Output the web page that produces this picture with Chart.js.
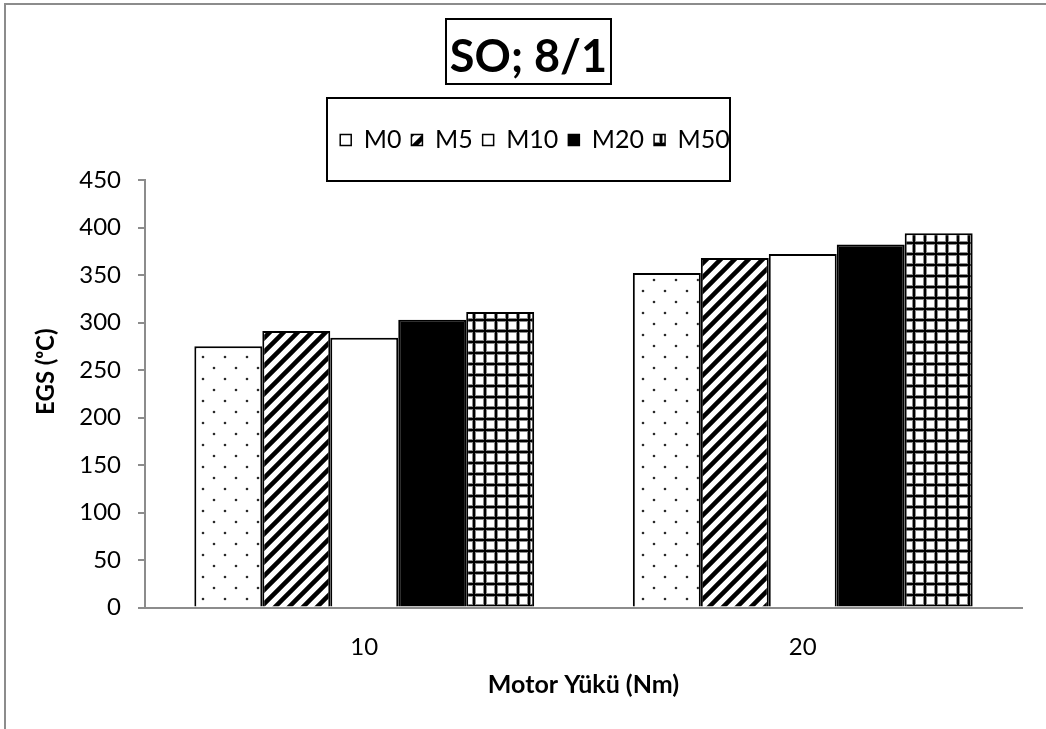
<!DOCTYPE html>
<html>
<head>
<meta charset="utf-8">
<script src="https://cdn.jsdelivr.net/npm/chart.js@4.4.1/dist/chart.umd.min.js"></script>
<style>
  html, body { margin: 0; padding: 0; background: #fff; }
  #wrap { position: relative; width: 1046px; height: 729px; }
</style>
</head>
<body>
<div id="wrap"><canvas id="c" width="1046" height="729"></canvas></div>
<script>
// ---- data ----
const categories = ['10', '20'];
const seriesNames = ['M0', 'M5', 'M10', 'M20', 'M50'];
const m0Values  = [275, 352];
const m5Values  = [291, 368];
const m10Values = [284, 372];
const m20Values = [303, 382];
const m50Values = [311, 394];
const yTickValues = [0, 50, 100, 150, 200, 250, 300, 350, 400, 450];
const chartTitle = 'SO; 8/1';
const xAxisTitle = 'Motor Yükü (Nm)';
const yAxisTitle = 'EGS (ᵒC)';

// ---- fill patterns ----
function makeTile(w, h, paint) {
  const c = document.createElement('canvas');
  c.width = w; c.height = h;
  const g = c.getContext('2d');
  paint(g, w, h);
  return g.createPattern(c, 'repeat');
}
const dotFill = makeTile(22, 22, (g) => {
  g.fillStyle = '#fff'; g.fillRect(0, 0, 22, 22);
  g.fillStyle = '#2a2a2a';
  [[5, 5], [16, 16]].forEach(([x, y]) => { g.beginPath(); g.arc(x, y, 1.3, 0, Math.PI * 2); g.fill(); });
});
const stripeFill = makeTile(14, 14, (g) => {
  g.fillStyle = '#fff'; g.fillRect(0, 0, 14, 14);
  g.strokeStyle = '#000'; g.lineWidth = 4.5;
  g.beginPath();
  g.moveTo(-7, 7); g.lineTo(7, -7);
  g.moveTo(0, 14); g.lineTo(14, 0);
  g.moveTo(7, 21); g.lineTo(21, 7);
  g.stroke();
});
const gridFill = makeTile(11, 11, (g) => {
  g.fillStyle = '#000'; g.fillRect(0, 0, 11, 11);
  g.fillStyle = '#8a8a8a'; g.fillRect(2, 2, 9, 9);
  g.fillStyle = '#fff'; g.fillRect(3, 3, 7, 7);
});

const seriesValues = [m0Values, m5Values, m10Values, m20Values, m50Values];
const seriesFills = [dotFill, stripeFill, '#ffffff', '#000000', gridFill];

const LEGEND_HEIGHT = 62.5;
const GRAY = '#8c8c8c';

// outer frame, title frame, legend frame and the value-axis title
const framesPlugin = {
  id: 'frames',
  afterInit(chart) {
    const lg = chart.legend;
    const baseFit = lg.fit;
    lg.fit = function () { baseFit.call(this); this.height = LEGEND_HEIGHT; };
  },
  afterLayout(chart) {
    chart.legend.left += 6.5;
    chart.legend.right += 6.5;
  },
  beforeDraw(chart) {
    const ctx = chart.ctx;
    ctx.save();
    ctx.fillStyle = '#fff';
    ctx.fillRect(0, 0, chart.width, chart.height);
    ctx.fillStyle = GRAY;
    ctx.fillRect(4, 3, chart.width - 4, 2);
    ctx.fillRect(4, 3, 2, chart.height - 3);
    ctx.restore();
  },
  afterDraw(chart) {
    const ctx = chart.ctx;
    const t = chart.titleBlock;
    const cx = (t.left + t.right) / 2;
    ctx.save();
    ctx.strokeStyle = '#000';
    ctx.lineWidth = 2;
    ctx.strokeRect(Math.round(cx - 82.5), 19, 165, 65);
    // legend frame
    const lh = chart.legend.legendHitBoxes;
    const itemMid = lh[0].top + lh[0].height / 2;
    ctx.strokeRect(Math.round(cx - 201.5), Math.round(itemMid - 42), 403, 83);
    // value axis title
    const area = chart.chartArea;
    ctx.translate(46, area.top + (area.bottom - area.top) / 2 - 22);
    ctx.rotate(-Math.PI / 2);
    ctx.font = 'bold 24px Lato';
    ctx.fillStyle = '#000';
    ctx.textAlign = 'center';
    ctx.textBaseline = 'middle';
    ctx.fillText(yAxisTitle, 0, 0);
    ctx.restore();
  }
};

function build() {
  new Chart(document.getElementById('c'), {
    type: 'bar',
    data: {
      labels: categories,
      datasets: seriesNames.map((name, i) => ({
        label: name,
        data: seriesValues[i],
        backgroundColor: seriesFills[i],
        borderColor: '#000',
        borderWidth: 2,
        categoryPercentage: 0.775,
        barPercentage: 1.0
      }))
    },
    options: {
      responsive: false,
      animation: false,
      devicePixelRatio: 1,
      layout: { padding: { left: 35, right: 24, top: 0, bottom: 29 } },
      plugins: {
        tooltip: { enabled: false },
        title: {
          display: true,
          text: chartTitle,
          color: '#000',
          font: { family: 'Lato', size: 45, weight: 'bold', lineHeight: 1.2 },
          padding: { top: 30, bottom: 33.5 }
        },
        legend: {
          display: true,
          position: 'top',
          labels: {
            color: '#000',
            font: { family: 'Lato', size: 25 },
            boxWidth: 11,
            boxHeight: 11,
            padding: 10,
            generateLabels(chart) {
              return Chart.defaults.plugins.legend.labels.generateLabels(chart)
                .map(l => Object.assign(l, { lineWidth: 1.5 }));
            }
          }
        }
      },
      scales: {
        x: {
          ticks: { color: '#000', padding: 25, font: { family: 'Lato', size: 24 } },
          grid: { display: false, drawTicks: false },
          border: { display: true, color: GRAY, width: 2 },
          title: {
            display: true, text: xAxisTitle, color: '#000',
            font: { family: 'Lato', size: 25, weight: 'bold' },
            padding: { top: 0, bottom: 0 }
          },
          afterFit(scale) { scale.height = 92.5; }
        },
        y: {
          min: yTickValues[0],
          max: yTickValues[yTickValues.length - 1],
          afterBuildTicks(scale) { scale.ticks = yTickValues.map(v => ({ value: v })); },
          ticks: { color: '#000', padding: 17, font: { family: 'Lato', size: 24 } },
          grid: { display: true, drawOnChartArea: false, tickLength: 7, color: GRAY, lineWidth: 2 },
          border: { display: true, color: GRAY, width: 2 },
          title: { display: false },
          afterFit(scale) { scale.width = 110; }
        }
      }
    },
    plugins: [framesPlugin]
  });
}

Promise.all([
  document.fonts.load('25px Lato'),
  document.fonts.load('bold 45px Lato')
]).then(build, build);
</script>
</body>
</html>
